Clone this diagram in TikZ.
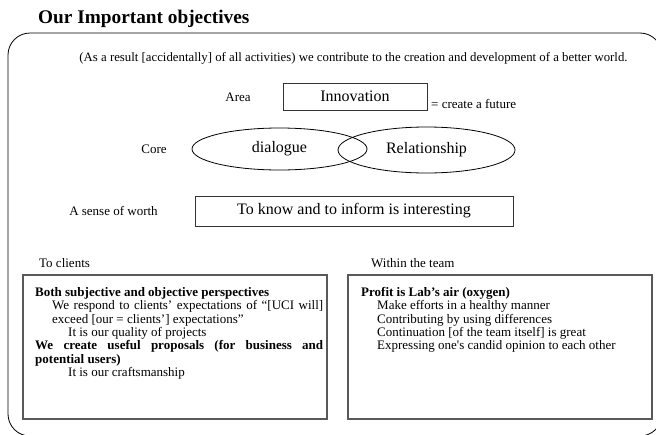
\documentclass[tikz,border=0pt]{standalone}
\usepackage{fontspec}
\setmainfont{Liberation Serif}[Ligatures=TeXOff]
\usetikzlibrary{shapes.geometric}

\newcommand{\bodysize}{\fontsize{13}{13.4}\selectfont}
\newcommand{\bigsize}{\fontsize{16}{18}\selectfont}

\begin{document}
\begin{tikzpicture}[x=1pt, y=-1pt,
  label/.style={font=\bodysize, inner sep=0pt},
  keybox/.style={draw=black!80, line width=0.8pt, font=\bigsize, inner sep=0pt},
  keyoval/.style={ellipse, draw=black, line width=0.8pt, font=\bigsize, inner sep=0pt},
  panel/.style={draw=black!65, line width=1.3pt, inner sep=0pt},
  paneltext/.style={font=\bodysize, inner sep=0pt, anchor=north west, align=justify,
    execute at begin node={\setlength{\parindent}{0pt}\hyphenpenalty=10000}}]

\useasboundingbox (0,0) rectangle (656,434);

\node[anchor=base west, inner sep=0pt, font=\fontsize{19.3}{22}\selectfont\bfseries] (title) at (38,23) {Our Important objectives};

\begin{scope}
\clip (0,0) rectangle (656,434);
\draw[line width=0.8pt, rounded corners=22pt] (8,33) rectangle (662,436);
\end{scope}

\node[label, anchor=base, font=\fontsize{12.8}{13.4}\selectfont] (world) at (353.5,61) {(As a result [accidentally] of all activities) we contribute to the creation and development of a better world.};

% area
\node[label] (area) at (238,97) {Area};
\node[keybox, minimum width=144pt, minimum height=27pt] (innovation) at (355,96.5) {Innovation};
\node[label, anchor=base west] (future) at (431,108) {= create a future};

% core
\node[label] (core) at (154,149) {Core};
\node[keyoval, minimum width=175pt, minimum height=42pt] (dialogue) at (279.5,149) {dialogue};
\node[keyoval, minimum width=177pt, minimum height=46pt] (relation) at (426.5,150) {Relationship};

% worth
\node[label] (worth) at (113.5,211) {A sense of worth};
\node[keybox, minimum width=318pt, minimum height=30pt] (inform) at (354,211) {To know and to inform is interesting};

% clients
\node[label, anchor=base west] (clients) at (39,267) {To clients};
\node[panel, minimum width=304pt, minimum height=144pt] (clientbox) at (175,347) {};
\node[paneltext, text width=288pt] (clienttext) at (35,287) {%
\textbf{Both subjective and objective perspectives}\par
{\leftskip=17pt We respond to clients’ expectations of “[UCI will]\linebreak exceed [our = clients’] expectations”\par}
{\leftskip=33pt It is our quality of projects\par}
\textbf{We create useful proposals (for business and\linebreak potential users)}\par
{\leftskip=33pt It is our craftsmanship\par}};

% team
\node[label, anchor=base west] (team) at (371,267) {Within the team};
\node[panel, minimum width=304pt, minimum height=144pt] (teambox) at (500,347) {};
\node[paneltext, text width=285pt] (teamtext) at (361,287) {%
\textbf{Profit is Lab’s air (oxygen)}\par
{\leftskip=16pt Make efforts in a healthy manner\par
Contributing by using differences\par
Continuation [of the team itself] is great\par
Expressing one's candid opinion to each other\par}};

\end{tikzpicture}
\end{document}
